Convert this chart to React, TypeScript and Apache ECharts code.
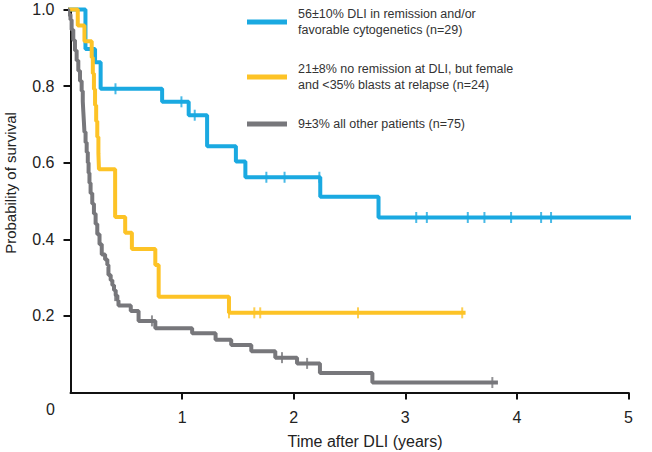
import React, { useEffect, useRef } from "react";
import * as echarts from "echarts";

const FONT = "'Liberation Sans', Arial, Helvetica, sans-serif";

const BLUE = "#1aa9e1";
const YELLOW = "#fdc326";
const GRAY = "#77777b";

// Kaplan-Meier steps: [time (years), survival after that time]
const blueSteps: [number, number][] = [
  [-0.09, 1.0], [0.134, 0.897], [0.22, 0.862], [0.27, 0.793], [0.821, 0.759],
  [1.059, 0.724], [1.224, 0.643], [1.482, 0.603], [1.567, 0.562], [2.238, 0.511],
  [2.76, 0.457], [5.17, 0.457],
];
const blueCensored: [number, number][] = [
  [0.403, 0.793], [0.994, 0.759], [1.113, 0.724], [1.755, 0.562], [1.918, 0.562],
  [2.23, 0.562], [3.098, 0.457], [3.193, 0.457], [3.56, 0.457], [3.709, 0.457],
  [3.948, 0.457], [4.217, 0.457], [4.306, 0.457],
];

const yellowSteps: [number, number][] = [
  [-0.09, 1.0], [0.065, 0.958], [0.125, 0.917], [0.19, 0.875], [0.2, 0.833],
  [0.21, 0.792], [0.22, 0.75], [0.23, 0.708], [0.24, 0.667], [0.25, 0.625],
  [0.255, 0.583], [0.4, 0.458], [0.49, 0.417], [0.55, 0.375], [0.76, 0.333],
  [0.79, 0.25], [1.42, 0.208], [3.54, 0.208],
];
const yellowCensored: [number, number][] = [
  [1.42, 0.208], [1.647, 0.208], [1.7, 0.208], [2.576, 0.208], [3.51, 0.208],
];

const graySteps: [number, number][] = [
  [-0.09, 1.0], [-0.02, 0.987], [0.0, 0.973], [0.01, 0.947], [0.025, 0.92],
  [0.04, 0.893], [0.055, 0.867], [0.07, 0.84], [0.085, 0.813], [0.1, 0.787],
  [0.11, 0.76], [0.115, 0.733], [0.12, 0.707], [0.125, 0.68], [0.135, 0.653],
  [0.145, 0.627], [0.155, 0.6], [0.162, 0.573], [0.17, 0.547], [0.18, 0.52],
  [0.195, 0.493], [0.21, 0.467], [0.225, 0.44], [0.24, 0.413], [0.26, 0.387],
  [0.28, 0.36], [0.31, 0.347], [0.33, 0.333], [0.34, 0.307], [0.36, 0.293],
  [0.375, 0.28], [0.39, 0.267], [0.405, 0.253], [0.42, 0.24], [0.43, 0.227],
  [0.54, 0.213], [0.61, 0.187], [0.76, 0.168], [1.09, 0.155], [1.3, 0.138],
  [1.44, 0.124], [1.62, 0.108], [1.835, 0.091], [2.03, 0.076], [2.235, 0.051],
  [2.705, 0.026], [3.83, 0.026],
];
const grayCensored: [number, number][] = [
  [0.4, 0.253], [0.73, 0.187], [1.895, 0.091], [2.12, 0.076], [3.78, 0.026],
];

const xTicks = [1, 2, 3, 4, 5];
const yTicks = [0.2, 0.4, 0.6, 0.8, 1.0];

const legendItems = [
  { color: BLUE, text: "56±10% DLI in remission and/or\nfavorable cytogenetics (n=29)", y: 22 },
  { color: YELLOW, text: "21±8% no remission at DLI, but female\nand <35% blasts at relapse (n=24)", y: 77 },
  { color: GRAY, text: "9±3% all other patients (n=75)", y: 124 },
];

function stepSeries(data: [number, number][], color: string, z: number) {
  return {
    type: "line",
    step: "end",
    data,
    showSymbol: false,
    clip: false,
    z,
    lineStyle: { color, width: 4 },
    itemStyle: { color },
  };
}

function censorSeries(data: [number, number][], color: string, z: number) {
  return {
    type: "scatter",
    data,
    clip: false,
    z,
    symbol: "rect",
    symbolSize: [2, 11],
    itemStyle: { color },
  };
}

export default function App() {
  const ref = useRef<HTMLDivElement>(null);
  useEffect(() => {
    if (!ref.current) return;
    const chart = echarts.init(ref.current, undefined, { renderer: "svg" });
    const graphic: any[] = [];
    legendItems.forEach((it) => {
      graphic.push({
        type: "line",
        shape: { x1: 247, y1: it.y, x2: 287, y2: it.y },
        style: { stroke: it.color, lineWidth: 5 },
      });
      graphic.push({
        type: "text",
        x: 298,
        y: it.y,
        style: {
          text: it.text,
          font: `12.5px ${FONT}`,
          fill: "#333",
          lineHeight: 16,
          verticalAlign: "middle",
          align: "left",
        },
      });
    });
    graphic.push({
      type: "text",
      x: 55,
      y: 409,
      style: { text: "0", font: `16px ${FONT}`, fill: "#222", align: "right", verticalAlign: "middle" },
    });
    graphic.push({
      type: "text",
      x: 365,
      y: 441,
      style: { text: "Time after DLI (years)", font: `16px ${FONT}`, fill: "#222", align: "center", verticalAlign: "middle" },
    });
    graphic.push({
      type: "text",
      x: 10,
      y: 183,
      rotation: Math.PI / 2,
      style: { text: "Probability of survival", font: `15px ${FONT}`, fill: "#222", align: "center", verticalAlign: "middle" },
    });

    chart.setOption({
      animation: false,
      grid: { left: 70.5, right: 23.5, top: 9.5, bottom: 59.5 },
      xAxis: {
        type: "value",
        min: 0,
        max: 5,
        interval: 1,
        splitLine: { show: false },
        axisLine: { lineStyle: { color: "#111", width: 2 } },
        axisTick: { customValues: xTicks, length: 7, lineStyle: { color: "#111", width: 2 } },
        axisLabel: {
          customValues: xTicks,
          margin: 17,
          fontSize: 16,
          fontFamily: FONT,
          color: "#222",
          formatter: (v: number) => String(v),
        },
      },
      yAxis: {
        type: "value",
        min: 0,
        max: 1,
        interval: 0.2,
        splitLine: { show: false },
        axisLine: { show: true, lineStyle: { color: "#111", width: 2 } },
        axisTick: { show: true, customValues: yTicks, length: 7, lineStyle: { color: "#111", width: 2 } },
        axisLabel: {
          customValues: yTicks,
          margin: 16,
          fontSize: 16,
          fontFamily: FONT,
          color: "#222",
          formatter: (v: number) => v.toFixed(1),
        },
      },
      graphic,
      series: [
        stepSeries(blueSteps, BLUE, 2),
        censorSeries(blueCensored, BLUE, 2),
        stepSeries(yellowSteps, YELLOW, 3),
        censorSeries(yellowCensored, YELLOW, 3),
        stepSeries(graySteps, GRAY, 4),
        censorSeries(grayCensored, GRAY, 4),
      ],
    });
    return () => chart.dispose();
  }, []);
  return <div ref={ref} style={{ width: 652, height: 452, position: "absolute", left: 0, top: 0 }} />;
}
